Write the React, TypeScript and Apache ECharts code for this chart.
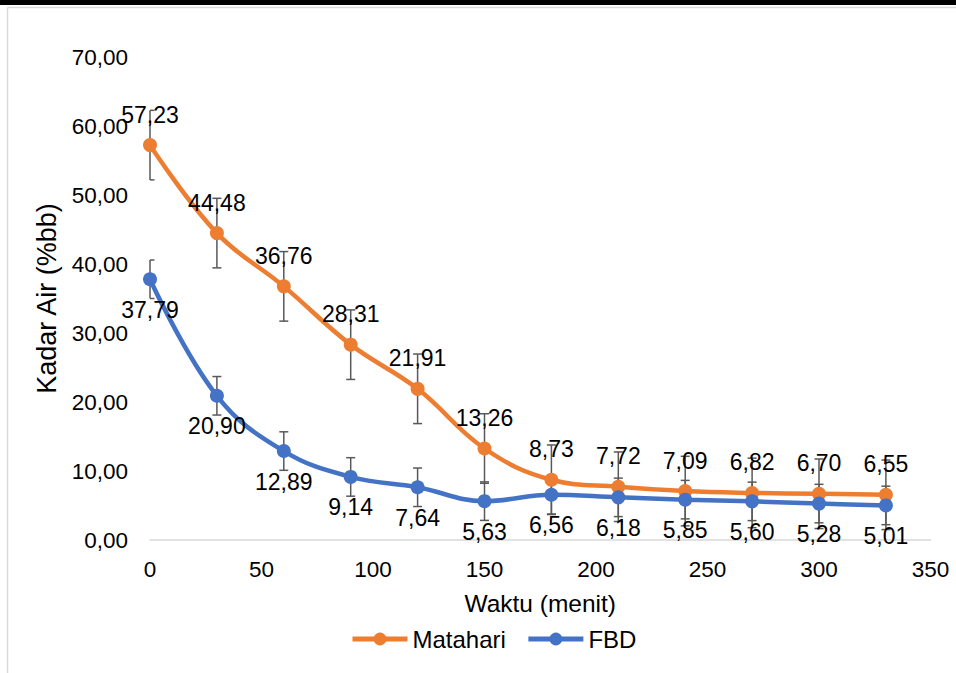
import React, { useEffect, useRef } from "react";
import * as echarts from "echarts";

const times = [0, 30, 60, 90, 120, 150, 180, 210, 240, 270, 300, 330];
const matahari = [57.23, 44.48, 36.76, 28.31, 21.91, 13.26, 8.73, 7.72, 7.09, 6.82, 6.7, 6.55];
const fbd = [37.79, 20.9, 12.89, 9.14, 7.64, 5.63, 6.56, 6.18, 5.85, 5.6, 5.28, 5.01];
const matahariErr = 5.04;
const fbdErr = 2.79;
const yTicks = [0, 10, 20, 30, 40, 50, 60, 70];
const xTicks = [0, 50, 100, 150, 200, 250, 300, 350];

const ORANGE = "#ED7D31";
const BLUE = "#4472C4";
const FONT = "Liberation Sans, Arial, sans-serif";
const fmt = (v: number) => v.toFixed(2).replace(".", ",");

function errSeries(vals: number[], err: number) {
  return {
    type: "custom",
    silent: true,
    z: 1,
    data: times.map((t, i) => [t, vals[i] - err, vals[i] + err]),
    renderItem: (params: any, api: any) => {
      const cs = params.coordSys;
      const lo = api.coord([api.value(0), api.value(1)]);
      const hi = api.coord([api.value(0), api.value(2)]);
      const h = 4.5;
      const l = Math.max(lo[0] - h, cs.x);
      const r = lo[0] + h;
      const style = { stroke: "#595959", lineWidth: 1.5 };
      return {
        type: "group",
        children: [
          { type: "line", shape: { x1: lo[0], y1: lo[1], x2: hi[0], y2: hi[1] }, style },
          { type: "line", shape: { x1: l, y1: lo[1], x2: r, y2: lo[1] }, style },
          { type: "line", shape: { x1: l, y1: hi[1], x2: r, y2: hi[1] }, style },
        ],
      };
    },
  };
}

export default function App() {
  const ref = useRef<HTMLDivElement>(null);
  useEffect(() => {
    const chart = echarts.init(ref.current!, null, { renderer: "svg" });
    const lbl = (pos: string) => ({
      show: true,
      position: pos,
      distance: 12,
      fontSize: 23,
      color: "#000",
      fontFamily: FONT,
      formatter: (p: any) => fmt(p.value[1]),
    });
    chart.setOption({
      animation: false,
      backgroundColor: "#fff",
      textStyle: { fontFamily: FONT },
      graphic: [
        { type: "rect", shape: { x: 0, y: 0, width: 956, height: 5 }, style: { fill: "#000" } },
        { type: "line", shape: { x1: 7.5, y1: 7.5, x2: 956, y2: 7.5 }, style: { stroke: "#d9d9d9", lineWidth: 1.5 } },
        { type: "line", shape: { x1: 7.5, y1: 7.5, x2: 7.5, y2: 673 }, style: { stroke: "#d9d9d9", lineWidth: 1.5 } },
      ],
      grid: { left: 150, right: 25.5, top: 57, bottom: 133, containLabel: false },
      legend: {
        left: 350,
        top: 627,
        padding: 0,
        itemWidth: 55,
        itemHeight: 16,
        itemGap: 20,
        lineStyle: { width: 5 },
        textStyle: { fontSize: 24, color: "#000", fontFamily: FONT, padding: [0, 0, 0, 0] },
        data: ["Matahari", "FBD"],
      },
      xAxis: {
        type: "value",
        min: xTicks[0],
        max: xTicks[xTicks.length - 1],
        interval: xTicks[1] - xTicks[0],
        name: "Waktu (menit)",
        nameLocation: "middle",
        nameGap: 51,
        nameTextStyle: { fontSize: 24.5, color: "#000", fontFamily: FONT },
        axisLine: { show: true, lineStyle: { color: "#d9d9d9", width: 1.5 } },
        axisTick: { show: false },
        splitLine: { show: false },
        axisLabel: { fontSize: 22.5, color: "#000", margin: 18, fontFamily: FONT },
      },
      yAxis: {
        type: "value",
        min: yTicks[0],
        max: yTicks[yTicks.length - 1],
        interval: yTicks[1] - yTicks[0],
        name: "Kadar Air (%bb)",
        nameLocation: "middle",
        nameGap: 87,
        nameTextStyle: { fontSize: 27, color: "#000", fontFamily: FONT },
        axisLine: { show: false },
        axisTick: { show: false },
        splitLine: { show: false },
        axisLabel: { fontSize: 22.5, color: "#000", margin: 22, fontFamily: FONT, formatter: (v: number) => fmt(v) },
      },
      series: [
        errSeries(matahari, matahariErr),
        errSeries(fbd, fbdErr),
        {
          name: "Matahari",
          type: "line",
          z: 3,
          smooth: 0.4,
          data: times.map((t, i) => [t, matahari[i]]),
          symbol: "circle",
          symbolSize: 14,
          lineStyle: { color: ORANGE, width: 4.5 },
          itemStyle: { color: ORANGE },
          label: lbl("top"),
        },
        {
          name: "FBD",
          type: "line",
          z: 3,
          smooth: 0.4,
          data: times.map((t, i) => [t, fbd[i]]),
          symbol: "circle",
          symbolSize: 14,
          lineStyle: { color: BLUE, width: 4.5 },
          itemStyle: { color: BLUE },
          label: lbl("bottom"),
        },
      ],
    });
    return () => chart.dispose();
  }, []);
  return <div ref={ref} style={{ position: "absolute", left: 0, top: 0, width: 956, height: 673 }} />;
}
